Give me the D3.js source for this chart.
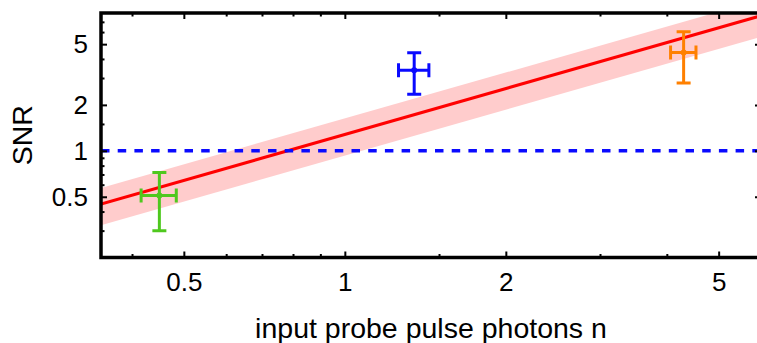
<!DOCTYPE html>
<html>
<head>
<meta charset="utf-8">
<script src="https://cdn.jsdelivr.net/npm/d3@7"></script>
<style>
  body { margin: 0; background: #fff; }
  svg { display: block; }
  text { font-family: "Liberation Sans", Arial, sans-serif; fill: #000; }
</style>
</head>
<body>
<svg id="chart" width="757" height="343"></svg>
<script>
// Measured points: photon number n and SNR, each with its error
const photons = [0.45, 1.348, 4.30];
const photonErr = [0.034, 0.088, 0.235];
const snr = [0.51, 3.37, 4.40];
const snrErr = [0.21, 1.02, 1.62];
const pointColors = ["#4fc81e", "#0a0aff", "#ff8000"];

// Linear fit SNR = k * n with its uncertainty band
const fitSlope = 1.28;
const fitSlopeErr = 0.35;

// Detection threshold
const threshold = 1;

// Axis ranges and ticks
const xDomain = [0.35, 6];
const yDomain = [0.2, 8];
const xMajorTicks = [0.5, 1, 2, 5];
const xMinorTicks = [0.4, 0.6, 0.7, 0.8, 0.9, 1.5, 3, 4];
const yMajorTicks = [0.5, 1, 2, 5];
const yMinorTicks = [0.3, 0.4, 0.6, 0.7, 0.8, 0.9, 1.5, 3, 4, 6, 7];

const xTitle = "input probe pulse photons n";
const yTitle = "SNR";

const svg = d3.select("#chart");
const frame = { left: 101, right: 761, top: 13, bottom: 257.5 };

const x = d3.scaleLog().domain(xDomain).range([frame.left, frame.right]);
const y = d3.scaleLog().domain(yDomain).range([frame.bottom, frame.top]);

svg.append("defs").append("clipPath").attr("id", "plotClip")
  .append("rect").attr("x", frame.left).attr("y", frame.top)
  .attr("width", frame.right - frame.left).attr("height", frame.bottom - frame.top);

const plot = svg.append("g").attr("clip-path", "url(#plotClip)");

// Fit uncertainty band
const fitX = xDomain.slice();
plot.append("path")
  .datum(fitX)
  .attr("fill", "#ffcccc")
  .attr("d", d3.area()
    .x(d => x(d))
    .y0(d => y((fitSlope - fitSlopeErr) * d))
    .y1(d => y((fitSlope + fitSlopeErr) * d)));

// Fit line
plot.append("path")
  .datum(fitX)
  .attr("fill", "none")
  .attr("stroke", "#ff0000")
  .attr("stroke-width", 3.2)
  .attr("d", d3.line().x(d => x(d)).y(d => y(fitSlope * d)));

// Threshold line
plot.append("line")
  .attr("x1", x(xDomain[0])).attr("x2", x(xDomain[1]))
  .attr("y1", y(threshold)).attr("y2", y(threshold))
  .attr("stroke", "#0a0aff")
  .attr("stroke-width", 3.5)
  .attr("stroke-dasharray", "8.5,8.2");

// Error bars
const cap = 7;
photons.forEach((n, i) => {
  const g = plot.append("g")
    .attr("stroke", pointColors[i])
    .attr("fill", pointColors[i])
    .attr("stroke-width", 3);
  const cx = x(n), cy = y(snr[i]);
  const x0 = x(n - photonErr[i]), x1 = x(n + photonErr[i]);
  const y0 = y(snr[i] - snrErr[i]), y1 = y(snr[i] + snrErr[i]);
  g.append("line").attr("x1", x0).attr("x2", x1).attr("y1", cy).attr("y2", cy);
  g.append("line").attr("x1", cx).attr("x2", cx).attr("y1", y0).attr("y2", y1);
  g.append("line").attr("x1", x0).attr("x2", x0).attr("y1", cy - cap).attr("y2", cy + cap);
  g.append("line").attr("x1", x1).attr("x2", x1).attr("y1", cy - cap).attr("y2", cy + cap);
  g.append("line").attr("x1", cx - cap).attr("x2", cx + cap).attr("y1", y0).attr("y2", y0);
  g.append("line").attr("x1", cx - cap).attr("x2", cx + cap).attr("y1", y1).attr("y2", y1);
  g.append("circle").attr("cx", cx).attr("cy", cy).attr("r", 3).attr("stroke", "none");
});

// Frame ticks (pointing inward on all four sides)
function styleAxis(g, fontSize) {
  g.select(".domain").remove();
  g.selectAll(".tick line").attr("stroke", "#000").attr("stroke-width", 2);
  g.selectAll(".tick text").attr("font-size", fontSize)
    .attr("font-family", "'Liberation Sans', Arial, sans-serif").attr("fill", "#000");
}
const majorLen = 6, minorLen = 3.5;

svg.append("g").attr("transform", `translate(0,${frame.bottom})`)
  .call(d3.axisBottom(x).tickValues(xMajorTicks).tickSize(-majorLen).tickPadding(15).tickFormat(d3.format("")))
  .call(g => styleAxis(g, 26));
svg.append("g").attr("transform", `translate(0,${frame.bottom})`)
  .call(d3.axisBottom(x).tickValues(xMinorTicks).tickSize(-minorLen).tickFormat(""))
  .call(g => styleAxis(g, 26));
svg.append("g").attr("transform", `translate(0,${frame.top})`)
  .call(d3.axisTop(x).tickValues(xMajorTicks).tickSize(-majorLen).tickFormat(""))
  .call(g => styleAxis(g, 26));
svg.append("g").attr("transform", `translate(0,${frame.top})`)
  .call(d3.axisTop(x).tickValues(xMinorTicks).tickSize(-minorLen).tickFormat(""))
  .call(g => styleAxis(g, 26));

svg.append("g").attr("transform", `translate(${frame.left},0)`)
  .call(d3.axisLeft(y).tickValues(yMajorTicks).tickSize(-majorLen).tickPadding(13).tickFormat(d3.format("")))
  .call(g => styleAxis(g, 26));
svg.append("g").attr("transform", `translate(${frame.left},0)`)
  .call(d3.axisLeft(y).tickValues(yMinorTicks).tickSize(-minorLen).tickFormat(""))
  .call(g => styleAxis(g, 26));
svg.append("g").attr("transform", `translate(${frame.right},0)`)
  .call(d3.axisRight(y).tickValues(yMajorTicks).tickSize(-majorLen).tickFormat(""))
  .call(g => styleAxis(g, 26));
svg.append("g").attr("transform", `translate(${frame.right},0)`)
  .call(d3.axisRight(y).tickValues(yMinorTicks).tickSize(-minorLen).tickFormat(""))
  .call(g => styleAxis(g, 26));

// Frame
svg.append("rect")
  .attr("x", frame.left).attr("y", frame.top)
  .attr("width", frame.right - frame.left).attr("height", frame.bottom - frame.top)
  .attr("fill", "none").attr("stroke", "#000").attr("stroke-width", 3.5);

// Axis titles
svg.append("text")
  .attr("x", (frame.left + frame.right) / 2).attr("y", 338)
  .attr("text-anchor", "middle")
  .attr("font-size", 28.5)
  .text(xTitle);

svg.append("text")
  .attr("transform", `translate(32,${(frame.top + frame.bottom) / 2}) rotate(-90)`)
  .attr("text-anchor", "middle")
  .attr("font-size", 28.5)
  .text(yTitle);
</script>
</body>
</html>
